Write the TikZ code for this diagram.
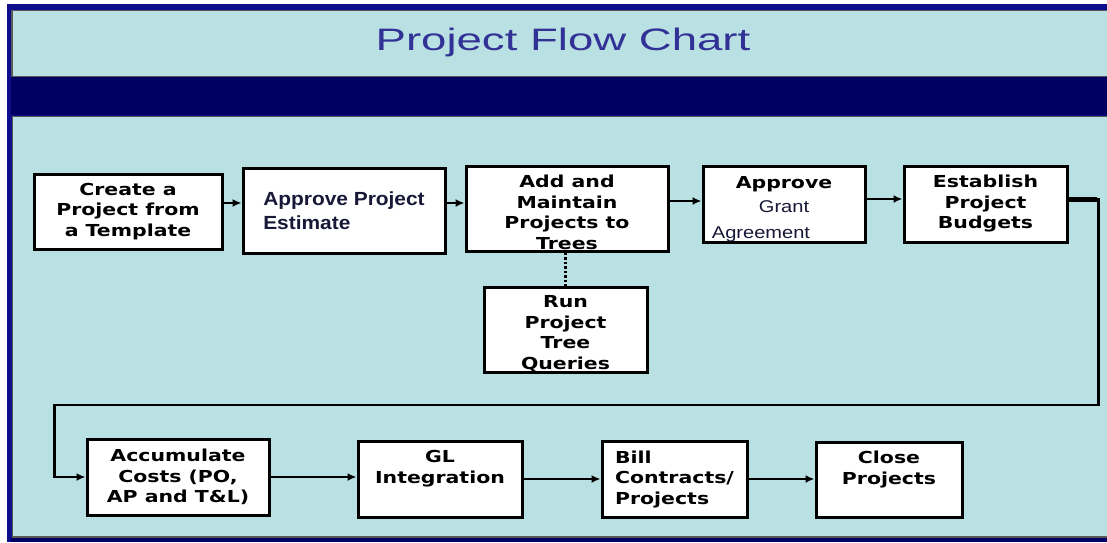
\documentclass[tikz,border=0pt]{standalone}
\usepackage{fontspec}
\usetikzlibrary{arrows.meta}
\newfontfamily\boxfont{DejaVu Sans Bold}[FakeStretch=1.24]
\newfontfamily\titlefont{Liberation Sans}[FakeStretch=1.47]
\newfontfamily\armfont{Liberation Sans}[FakeStretch=1.18]
\newfontfamily\armbold{Liberation Sans Bold}[FakeStretch=1.1]
\definecolor{panel}{RGB}{185,224,227}
\definecolor{navy}{RGB}{0,0,98}
\definecolor{frame}{RGB}{14,14,140}
\definecolor{heading}{RGB}{50,50,150}
\definecolor{ink}{RGB}{24,24,56}
\newcommand\armtext[1]{{\armfont\fontsize{17}{20}\selectfont\color{ink}#1}}
\tikzset{
  stage/.style={draw, line width=3pt, fill=white, align=center, inner sep=2pt,
    font=\boxfont\fontsize{16.5}{20.5}\selectfont},
  flow/.style={line width=2pt, -{Latex[length=9pt,width=8pt]}},
}
\begin{document}
\begin{tikzpicture}[x=1pt,y=-1pt]
 \useasboundingbox (0,0) rectangle (1107,542);
 % frame, title bar and panel
 \fill[frame] (7,4) rectangle (1107,542);
 \filldraw[fill=panel, draw=gray!70!black, line width=1.5pt] (12,10.5) rectangle (1112,77);
 \fill[navy] (11,77) rectangle (1107,115);
 \filldraw[fill=panel, draw=gray!70!black, line width=1.5pt] (12.5,116.5) rectangle (1112,537);
 \fill[navy] (11,538) rectangle (1107,542);
 \node[text=heading, font=\titlefont\fontsize{31}{36}\selectfont] (title) at (563,42) {Project Flow Chart};

 % top row
 \node[stage, minimum width=188pt, minimum height=75pt] (create) at (128,211.5) {Create a\\Project from\\a Template};
 \node[stage, minimum width=202pt, minimum height=85pt, align=left, text=ink,
   font=\armbold\fontsize{19}{24}\selectfont] (estimate) at (344,210.5) {Approve Project\\Estimate};
 \node[stage, minimum width=202pt, minimum height=85pt, inner ysep=0pt, text height=81pt, text depth=0pt] (trees) at (567,208.5) {Add and\\Maintain\\Projects to\\Trees};
 \node[stage, minimum width=162pt, minimum height=76pt, inner ysep=0pt, text height=69pt, text depth=0pt] (grant) at (784,204) {Approve\\[3.5pt]\armtext{Grant}\\[5.5pt]\armtext{\hspace*{-46pt}Agreement}};
 \node[stage, minimum width=163pt, minimum height=76pt] (budget) at (985.5,204) {Establish\\Project\\Budgets};
 \node[stage, minimum width=163pt, minimum height=85pt, inner ysep=0pt, text height=79pt, text depth=0pt] (query) at (565.5,329.5) {Run\\Project\\Tree\\Queries};

 % bottom row
 \node[stage, minimum width=182pt, minimum height=76pt] (costs) at (178,477) {Accumulate\\Costs (PO,\\AP and T\&L)};
 \node[stage, minimum width=164pt, minimum height=76pt, text depth=24pt] (gl) at (440,479) {GL\\Integration};
 \node[stage, minimum width=145pt, minimum height=76pt, align=left] (bill) at (674.5,479) {Bill\\Contracts/\\Projects};
 \node[stage, minimum width=146pt, minimum height=75pt, text depth=24pt] (close) at (889,479.5) {Close\\Projects};

 \draw[flow] ([yshift=8.5pt]create.east) -- ([yshift=8.5pt]create.east -| estimate.west);
 \draw[flow] ([yshift=7.5pt]estimate.east) -- ([yshift=7.5pt]estimate.east -| trees.west);
 \draw[flow] ([yshift=7.5pt]trees.east) -- ([yshift=7.5pt]trees.east -| grant.west);
 \draw[flow] ([yshift=5pt]grant.east) -- ([yshift=5pt]grant.east -| budget.west);
 \draw[line width=2.5pt, dash pattern=on 2.5pt off 2pt] (query.north |- trees.south) -- (query.north);
 \draw[flow, line width=2.5pt] ([yshift=5pt]budget.east) -- ++(30,0) -- ++(0,206)
   -| ([xshift=-31pt]costs.west) -- (costs.west);
 \draw[line width=5pt] ([yshift=5pt]budget.east) -- ++(28,0);
 \draw[flow] (costs.east) -- (costs.east -| gl.west);
 \draw[flow] (gl.east) -- (gl.east -| bill.west);
 \draw[flow] (bill.east) -- (bill.east -| close.west);
\end{tikzpicture}
\end{document}
